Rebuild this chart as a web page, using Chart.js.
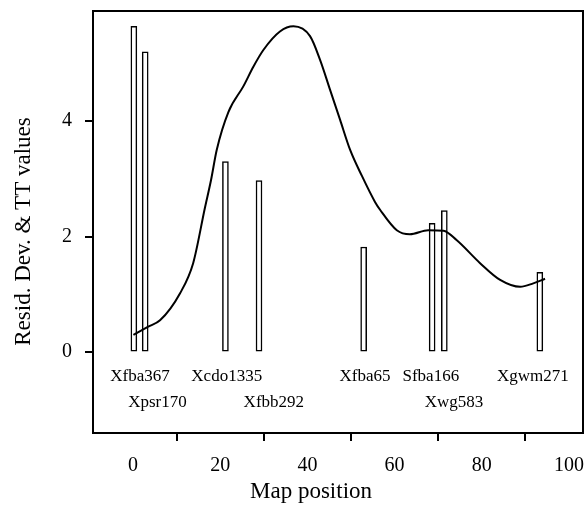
<!DOCTYPE html>
<html>
<head>
<meta charset="utf-8">
<script src="https://cdn.jsdelivr.net/npm/chart.js@4"></script>
<style>
html,body{margin:0;padding:0;background:#fff;}
canvas{display:block;}
</style>
</head>
<body>
<canvas id="c" width="586" height="507"></canvas>
<script>
// ---- data ----
const markers = ['Xfba367','Xpsr170','Xcdo1335','Xfbb292','Xfba65','Sfba166','Xwg583','Xgwm271'];
const markerPos = [0.2, 2.8, 21.2, 28.9, 52.9, 68.6, 71.4, 93.3];
const markerValue = [5.64, 5.20, 3.30, 2.97, 1.82, 2.23, 2.45, 1.38];
const labelPos = [1.6, 5.6, 21.5, 32.3, 53.2, 68.3, 73.6, 91.7];
const labelRow = [0, 1, 0, 1, 0, 0, 1, 0];
const curvePos = [0.1, 3.5, 6.2, 10.8, 13.8, 16.5, 17.9, 19.2, 21.9, 25.3, 27.6, 29.9, 33.7, 36.8, 40.6, 42.9, 45.2, 47.5, 49.8, 52.5, 55.5, 56.7, 60.5, 63.5, 67.7, 71.2, 74.2, 79.6, 84.2, 88.8, 91.8, 94.5];
const curveValue = [0.30, 0.44, 0.55, 1.02, 1.54, 2.50, 2.98, 3.50, 4.16, 4.60, 4.94, 5.23, 5.55, 5.64, 5.47, 5.06, 4.54, 4.02, 3.50, 3.05, 2.60, 2.46, 2.11, 2.04, 2.11, 2.10, 1.94, 1.54, 1.25, 1.13, 1.19, 1.27];
const xTicks = [0, 20, 40, 60, 80, 100];
const yTicks = [0, 2, 4];
const xTitle = 'Map position';
const yTitle = 'Resid. Dev. & TT values';

const FONT = "'Liberation Serif', 'Times New Roman', serif";

const framePlugin = {
  id: 'frame',
  afterDatasetsDraw(chart) {
    const {ctx, chartArea: a} = chart;
    ctx.save();
    ctx.strokeStyle = '#000';
    ctx.lineWidth = 2;
    ctx.strokeRect(a.left, a.top, a.right - a.left, a.bottom - a.top);
    ctx.restore();
  }
};

const markerLabelPlugin = {
  id: 'markerLabels',
  afterDatasetsDraw(chart) {
    const {ctx, scales: {x, y}} = chart;
    const y0 = y.getPixelForValue(0);
    ctx.save();
    ctx.fillStyle = '#000';
    ctx.font = "17px " + FONT;
    ctx.textAlign = 'center';
    ctx.textBaseline = 'middle';
    markers.forEach((m, i) => {
      const px = x.getPixelForValue(labelPos[i]);
      const py = y0 + 24 + labelRow[i] * 26;
      ctx.fillText(m, px, py);
    });
    ctx.restore();
  }
};

const axisTitlePlugin = {
  id: 'axisTitles',
  afterDraw(chart) {
    const {ctx, width, height} = chart;
    ctx.save();
    ctx.fillStyle = '#000';
    ctx.font = "23px " + FONT;
    ctx.textAlign = 'center';
    ctx.textBaseline = 'alphabetic';
    ctx.fillText(xTitle, width / 2 + 18, height - 9);
    ctx.translate(30, height / 2 - 22);
    ctx.rotate(-Math.PI / 2);
    ctx.fillText(yTitle, 0, 0);
    ctx.restore();
  }
};

new Chart(document.getElementById('c'), {
  type: 'bar',
  data: {
    datasets: [
      {
        type: 'line',
        data: curvePos.map((p, i) => ({x: p, y: curveValue[i]})),
        borderColor: '#000',
        borderWidth: 2,
        pointRadius: 0,
        tension: 0.4,
        cubicInterpolationMode: 'monotone',
        fill: false,
        order: 0
      },
      {
        type: 'bar',
        data: markerPos.map((p, i) => ({x: p, y: markerValue[i]})),
        backgroundColor: '#fff',
        borderColor: '#000',
        borderWidth: 1.5,
        borderSkipped: false,
        barThickness: 6,
        order: 1
      }
    ]
  },
  options: {
    responsive: false,
    animation: false,
    devicePixelRatio: 1,
    layout: {padding: {top: 11, right: 3, left: 0, bottom: 0}},
    plugins: {legend: {display: false}, tooltip: {enabled: false}},
    scales: {
      x: {
        type: 'linear',
        min: -9.17,
        max: 103.2,
        offset: false,
        afterBuildTicks: s => { s.ticks = xTicks.map(v => ({value: v})); },
        afterFit: s => { s.height = 74; s.paddingLeft = 0; s.paddingRight = 0; },
        grid: {display: true, drawOnChartArea: false, drawTicks: true, tickLength: 8, color: '#000', lineWidth: 2},
        border: {display: false},
        ticks: {autoSkip: false, maxRotation: 0, color: '#000', font: {family: FONT, size: 20}, padding: 13},
        title: {display: false}
      },
      y: {
        type: 'linear',
        min: -1.40,
        max: 5.905,
        afterBuildTicks: s => { s.ticks = yTicks.map(v => ({value: v})); },
        afterFit: s => { s.width = 93; s.paddingTop = 0; s.paddingBottom = 0; },
        grid: {display: true, drawOnChartArea: false, drawTicks: true, tickLength: 8, color: '#000', lineWidth: 2},
        border: {display: false},
        ticks: {autoSkip: false, color: '#000', font: {family: FONT, size: 20}, padding: 13},
        title: {display: false}
      }
    }
  },
  plugins: [framePlugin, markerLabelPlugin, axisTitlePlugin]
});
</script>
</body>
</html>
